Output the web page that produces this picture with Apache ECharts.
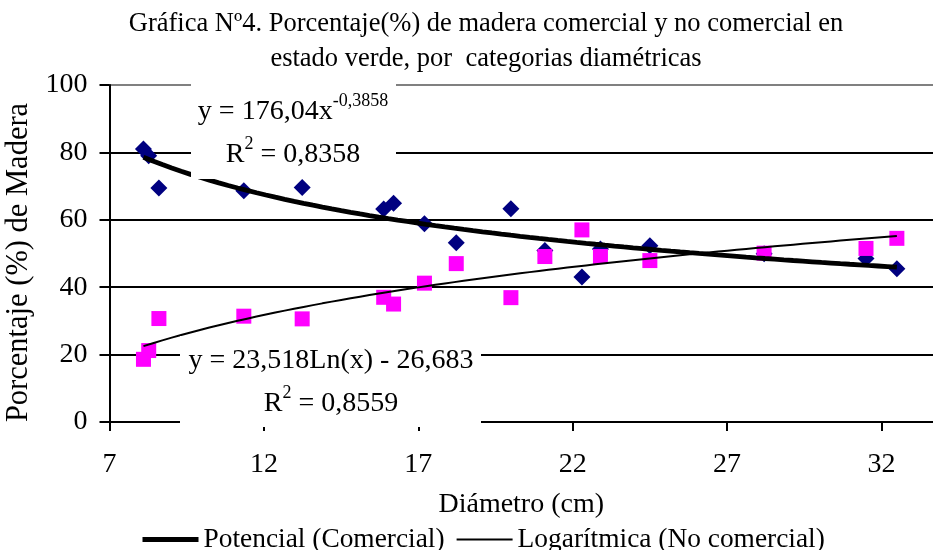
<!DOCTYPE html>
<html><head><meta charset="utf-8">
<script src="https://cdn.jsdelivr.net/npm/echarts@6/dist/echarts.min.js"></script>
<style>html,body{margin:0;padding:0;background:#fff}#c{width:933px;height:550px}</style>
</head><body><div id="c"></div>
<script>
const diametro    = [8.1, 8.27, 8.6, 11.35, 13.24, 15.88, 16.2, 17.2, 18.23, 20.0, 21.1, 22.3, 22.9, 24.5, 28.2, 31.5, 32.5];
const comercial   = [81.0, 79.0, 69.4, 68.6, 69.6, 63.2, 64.9, 58.8, 53.2, 63.3, 50.9, 43.0, 51.3, 52.3, 49.9, 48.5, 45.5];
const noComercial = [18.6, 21.2, 30.7, 31.4, 30.6, 37.0, 35.0, 41.2, 47.0, 36.9, 49.1, 57.0, 49.1, 47.9, 50.1, 51.5, 54.5];
const xTicks = [7, 12, 17, 22, 27, 32];
const yTicks = [0, 20, 40, 60, 80, 100];
// trendline equations as printed on the chart
const potA = 176.04, potB = -0.3858, potR2 = '0,8358';
const logA = 23.518, logB = -26.683, logR2 = '0,8559';

const FONT = 'Liberation Serif';
const xmin = Math.min(...diametro), xmax = Math.max(...diametro);
const trendPot = [], trendLog = [];
for (let i = 0; i <= 80; i++) {
  const x = xmin + (xmax - xmin) * i / 80;
  trendPot.push([x, potA * Math.pow(x, potB)]);
  trendLog.push([x, logA * Math.log(x) + logB]);
}

const chart = echarts.init(document.getElementById('c'), null, {renderer: 'canvas'});
const rich = {
  b: {fontFamily: FONT, fontSize: 28, color: '#000', lineHeight: 43},
  s: {fontFamily: FONT, fontSize: 18, color: '#000', verticalAlign: 'top', lineHeight: 43, padding: [2, 0, 0, 0]}
};
chart.setOption({
  animation: false,
  backgroundColor: '#fff',
  title: {
    text: 'Gráfica Nº4. Porcentaje(%) de madera comercial y no comercial en\nestado verde, por  categorias diamétricas',
    left: 481, top: 2, textAlign: 'center',
    textStyle: {fontFamily: FONT, fontSize: 26.5, fontWeight: 'normal', color: '#000', lineHeight: 35}
  },
  legend: {
    left: 135, top: 521, itemWidth: 56, itemHeight: 12, itemGap: 11,
    data: [
      {name: 'Potencial (Comercial)', lineStyle: {width: 5, color: '#000'}},
      {name: 'Logarítmica (No comercial)', lineStyle: {width: 2, color: '#000'}}
    ],
    itemStyle: {opacity: 0},
    textStyle: {fontFamily: FONT, fontSize: 27.4, color: '#000', padding: [0, 0, 0, 0]}
  },
  grid: {left: 109.5, right: 0, top: 85, bottom: 128, outerBoundsMode: 'none', containLabel: false},
  xAxis: {
    type: 'value', min: xTicks[0], max: 33.67, interval: xTicks[1] - xTicks[0],
    name: 'Diámetro (cm)', nameLocation: 'middle', nameGap: 69,
    nameTextStyle: {fontFamily: FONT, fontSize: 28, color: '#000'},
    axisLine: {show: true, onZero: false, lineStyle: {color: '#000', width: 2}},
    axisTick: {show: true, length: 9, lineStyle: {color: '#000', width: 2}},
    axisLabel: {fontFamily: FONT, fontSize: 28, color: '#000', margin: 29, showMaxLabel: false},
    splitLine: {show: false}
  },
  yAxis: {
    type: 'value', min: yTicks[0], max: yTicks[yTicks.length - 1], interval: yTicks[1] - yTicks[0],
    name: 'Porcentaje (%) de Madera', nameLocation: 'middle', nameGap: 65, nameRotate: 90,
    nameTextStyle: {fontFamily: FONT, fontSize: 30.5, color: '#000', padding: [0, 18, 0, 0]},
    axisLine: {show: true, lineStyle: {color: '#000', width: 2}},
    axisTick: {show: true, length: 10, lineStyle: {color: '#000', width: 2}},
    axisLabel: {fontFamily: FONT, fontSize: 28, color: '#000', margin: 22},
    splitLine: {show: true, lineStyle: {color: ['#000', '#000', '#000', '#000', '#000', '#808080'], width: 2}}
  },
  series: [
    {name: 'Comercial', type: 'scatter', symbol: 'diamond', symbolSize: 17, z: 2,
     itemStyle: {color: '#000080', opacity: 1}, data: diametro.map((x, i) => [x, comercial[i]])},
    {name: 'No comercial', type: 'scatter', symbol: 'rect', symbolSize: 15, z: 3,
     itemStyle: {color: '#FF00FF', opacity: 1}, data: diametro.map((x, i) => [x, noComercial[i]])},
    {name: 'Potencial (Comercial)', type: 'line', showSymbol: false, symbol: 'none', z: 4,
     lineStyle: {color: '#000', width: 4.8}, itemStyle: {color: '#000'}, data: trendPot},
    {name: 'Logarítmica (No comercial)', type: 'line', showSymbol: false, symbol: 'none', z: 4,
     lineStyle: {color: '#000', width: 2}, itemStyle: {color: '#000'}, data: trendLog}
  ],
  graphic: [
    {type: 'rect', z: 10, shape: {x: 191, y: 82, width: 205, height: 97}, style: {fill: '#fff'}},
    {type: 'text', z: 11, x: 293, y: 133, style: {
      text: '{b|y = 176,04x}{s|-0,3858}\n{b|R}{s|2}{b| = ' + potR2 + '}', rich: rich,
      align: 'center', verticalAlign: 'middle'}},
    {type: 'rect', z: 10, shape: {x: 180, y: 336, width: 301, height: 91}, style: {fill: '#fff'}},
    {type: 'text', z: 11, x: 331, y: 382, style: {
      text: '{b|y = 23,518Ln(x) - 26,683}\n{b|R}{s|2}{b| = ' + logR2 + '}', rich: rich,
      align: 'center', verticalAlign: 'middle'}}
  ]
});
</script></body></html>
